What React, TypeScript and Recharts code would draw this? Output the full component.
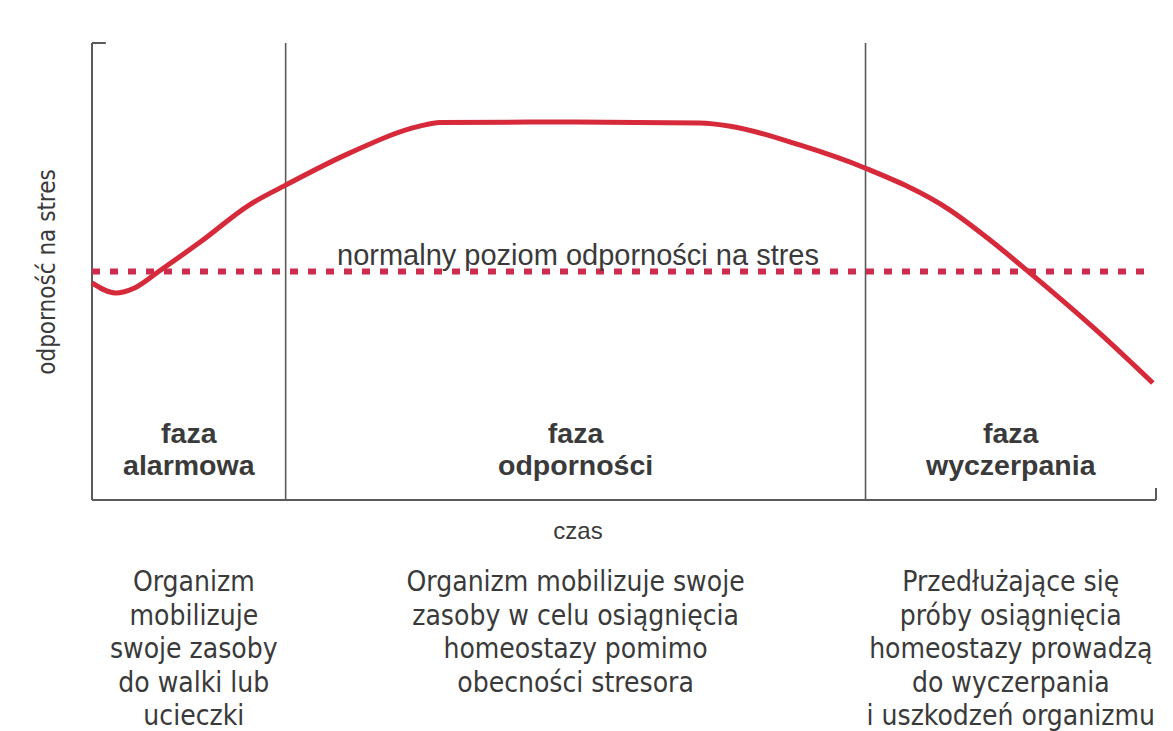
import { LineChart, Line, XAxis, YAxis, ReferenceLine } from 'recharts';

// czas (0-100) i odporność na stres (0-100)
const time = [0, 2.2, 4.0, 6.2, 10.2, 14.8, 18.2, 24.2, 30.8, 32.7, 45.4, 57.1, 60, 66.5, 72.7, 80.6, 84.4, 88.4, 94.7, 99.7];
const resistance = [47.5, 45.3, 46.4, 49.9, 56.5, 64.6, 68.9, 75.9, 81.8, 82.6, 82.7, 82.5, 81.8, 77.7, 72.6, 63.5, 56.9, 49.2, 36.5, 25.6];
const normalLevel = 50;

const phaseBounds = [0, 18.2, 72.7, 100];
const phaseNames = [
  ['faza', 'alarmowa'],
  ['faza', 'odporności'],
  ['faza', 'wyczerpania'],
];
const phaseNotes = [
  ['Organizm', 'mobilizuje', 'swoje zasoby', 'do walki lub', 'ucieczki'],
  ['Organizm mobilizuje swoje', 'zasoby w celu osiągnięcia', 'homeostazy pomimo', 'obecności stresora'],
  ['Przedłużające się', 'próby osiągnięcia', 'homeostazy prowadzą', 'do wyczerpania', 'i uszkodzeń organizmu'],
];

const data = time.map((t, i) => ({ t, v: resistance[i] }));

const W = 1173;
const H = 731;
const margin = { top: 43, right: 17, bottom: 231, left: 92 };
const plotW = W - margin.left - margin.right;
const toPx = (t: number) => margin.left + (t / 100) * plotW;

const axisColor = '#5a5a5a';
const textColor = '#3a3a3a';
const narrow = "'Liberation Sans Narrow', 'DejaVu Sans Condensed', 'Roboto', sans-serif";
const sans = "'Liberation Sans', Arial, sans-serif";

export default function App() {
  return (
    <div style={{ position: 'absolute', left: 0, top: 0, width: W, height: H, background: '#fff', overflow: 'hidden' }}>
      <LineChart width={W} height={H} data={data} margin={margin}>
        <XAxis dataKey="t" type="number" domain={[0, 100]} hide />
        <YAxis type="number" domain={[0, 100]} hide />

        <ReferenceLine x={0} stroke={axisColor} strokeWidth={2} />
        <ReferenceLine y={0} stroke={axisColor} strokeWidth={2} />
        <ReferenceLine segment={[{ x: 0, y: 100 }, { x: 1.3, y: 100 }]} stroke={axisColor} strokeWidth={2} />
        <ReferenceLine segment={[{ x: 100, y: 0 }, { x: 100, y: 2.6 }]} stroke={axisColor} strokeWidth={2} />
        {phaseBounds.slice(1, -1).map((b) => (
          <ReferenceLine key={b} x={b} stroke={axisColor} strokeWidth={1.6} />
        ))}

        <ReferenceLine
          segment={[{ x: 0, y: normalLevel }, { x: 99.4, y: normalLevel }]}
          stroke="#cc2c4e"
          strokeWidth={6}
          strokeDasharray="8 10"
        />

        <Line
          type="monotone"
          dataKey="v"
          stroke="#d62a3b"
          strokeWidth={5}
          dot={false}
          isAnimationActive={false}
        />
      </LineChart>

      <div
        style={{
          position: 'absolute', left: 47, top: 272, transform: 'translate(-50%, -50%) rotate(-90deg)',
          whiteSpace: 'nowrap', fontFamily: narrow, fontSize: 24, color: textColor,
        }}
      >
        odporność na stres
      </div>

      <div
        style={{
          position: 'absolute', left: 578, top: 255, transform: 'translate(-50%, -50%)',
          whiteSpace: 'nowrap', fontFamily: sans, fontSize: 29, color: textColor,
        }}
      >
        normalny poziom odporności na stres
      </div>

      {phaseNames.map((lines, i) => (
        <div
          key={i}
          style={{
            position: 'absolute', left: toPx((phaseBounds[i] + phaseBounds[i + 1]) / 2), top: 417,
            transform: 'translateX(-50%)', textAlign: 'center', whiteSpace: 'nowrap',
            fontFamily: sans, fontWeight: 700, fontSize: 28.5, lineHeight: '32px', color: textColor,
          }}
        >
          {lines.map((l) => <div key={l}>{l}</div>)}
        </div>
      ))}

      <div
        style={{
          position: 'absolute', left: 578, top: 531, transform: 'translate(-50%, -50%)',
          fontFamily: sans, fontSize: 24, color: textColor,
        }}
      >
        czas
      </div>

      {phaseNotes.map((lines, i) => (
        <div
          key={i}
          style={{
            position: 'absolute', left: toPx((phaseBounds[i] + phaseBounds[i + 1]) / 2) + (i === 0 ? 5 : 0), top: 565,
            transform: 'translateX(-50%)', textAlign: 'center', whiteSpace: 'nowrap',
            fontFamily: narrow, fontSize: 28, lineHeight: '33.5px', color: textColor,
          }}
        >
          {lines.map((l) => <div key={l}>{l}</div>)}
        </div>
      ))}
    </div>
  );
}
